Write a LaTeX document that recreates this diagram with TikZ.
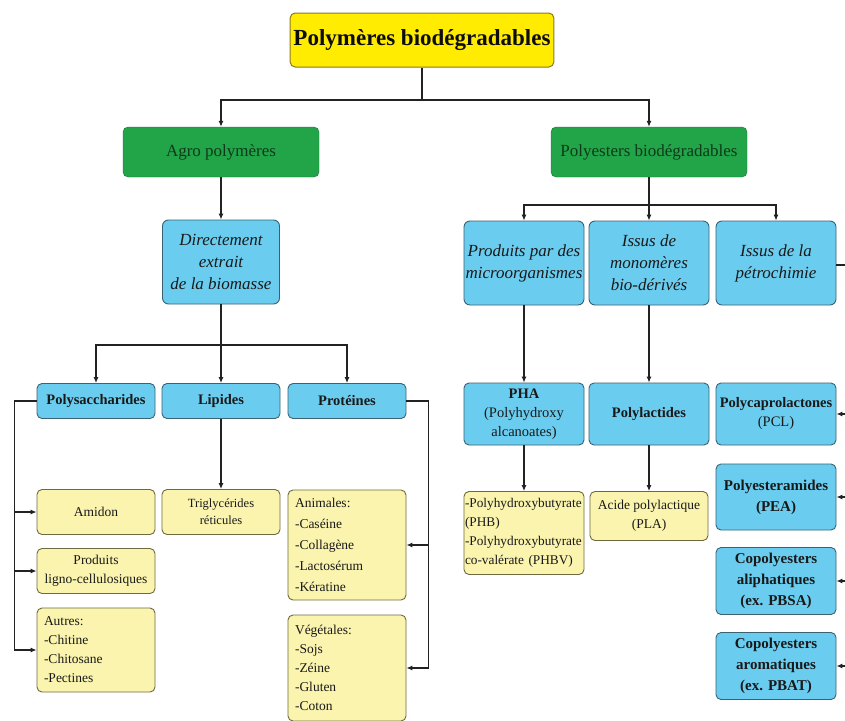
\documentclass[tikz,border=0pt]{standalone}
\usepackage{fontspec}
\setmainfont{Liberation Serif}
\newfontfamily\diagfont{Liberation Serif}
\usetikzlibrary{arrows.meta,positioning}
\definecolor{titleyellow}{HTML}{FFEC00}
\definecolor{titleedge}{HTML}{8A7A20}
\definecolor{groupgreen}{HTML}{22A548}
\definecolor{greenedge}{HTML}{17733A}
\definecolor{greentext}{HTML}{0E3A1A}
\definecolor{boxblue}{HTML}{6ACDF0}
\definecolor{blueedge}{HTML}{3A6272}
\definecolor{leafyellow}{HTML}{FAF4AE}
\definecolor{leafedge}{HTML}{6E6A40}
\definecolor{linegray}{HTML}{222222}
\tikzset{
  rootbox/.style={rectangle,rounded corners=5pt,draw=titleedge,line width=1pt,fill=titleyellow,minimum width=262pt,minimum height=54pt,font=\diagfont\fontsize{23}{26}\selectfont\bfseries,text=black!95},
  groupbox/.style={rectangle,rounded corners=5pt,draw=greenedge,fill=groupgreen,minimum width=196pt,minimum height=50pt,font=\diagfont\fontsize{17}{20}\selectfont,text=greentext},
  originbox/.style={rectangle,rounded corners=6pt,draw=blueedge,line width=0.9pt,fill=boxblue,minimum width=120pt,minimum height=84pt,align=center,inner sep=1pt,font=\diagfont\fontsize{17}{22}\selectfont\itshape,text=black!90},
  familybox/.style={rectangle,rounded corners=5pt,draw=blueedge,line width=0.9pt,fill=boxblue,minimum width=118pt,minimum height=35pt,align=center,inner sep=1pt,font=\diagfont\fontsize{14.5}{19}\selectfont\bfseries,text=black!90},
  leafbox/.style={rectangle,rounded corners=5pt,draw=leafedge,line width=0.9pt,fill=leafyellow,minimum width=118pt,align=center,inner sep=1pt,font=\diagfont\fontsize{13.5}{19}\selectfont,text=black!90},
  listbox/.style={leafbox,align=left,text width=104pt,inner xsep=7pt},
  arrow/.style={-{Latex[length=6pt,width=5pt]},line width=1.1pt,draw=linegray},
  link/.style={line width=1.1pt,draw=linegray}
}

\begin{document}
\begin{tikzpicture}[x=1pt,y=-1pt]
  \fill[white] (0,0) rectangle (845,720);
  \useasboundingbox (0,0) rectangle (845,720);

  % top levels
  \node[rootbox] (root) at (422,40) {Polymères biodégradables};
  \node[groupbox] (agro) at (221,152) {Agro polymères};
  \node[groupbox] (polyest) at (649,152) {Polyesters biodégradables};

  \node[originbox,minimum width=117pt] (biomasse) at (221,262) {Directement\\extrait\\de la biomasse};
  \node[originbox] (micro) at (524,263) {Produits par des\\microorganismes};
  \node[originbox] (monomer) at (649,263) {Issus de\\monomères\\bio-dérivés};
  \node[originbox] (petro) at (776,263) {Issus de la\\pétrochimie};

  % agro polymeres
  \node[familybox] (polysac) at (96,401) {Polysaccharides};
  \node[familybox] (lipid) at (221,401) {Lipides};
  \node[familybox] (protein) at (347,401) {Protéines};

  \node[leafbox,minimum height=45pt] (amidon) at (96,512) {Amidon};
  \node[leafbox,minimum height=45pt] (ligno) at (96,571) {Produits\\ligno-cellulosiques};
  \node[listbox,minimum height=84pt] (autres) at (96,650) {Autres:\\-Chitine\\-Chitosane\\-Pectines};
  \node[leafbox,minimum height=45pt,font=\diagfont\fontsize{12.5}{17}\selectfont] (trigly) at (221,512) {Triglycérides\\réticules};
  \node[listbox,minimum height=110pt,font=\diagfont\fontsize{13.5}{21}\selectfont] (animal) at (347,545) {Animales:\\-Caséine\\-Collagène\\-Lactosérum\\-Kératine};
  \node[listbox,minimum height=106pt] (vegetal) at (347,668) {Végétales:\\-Sojs\\-Zéine\\-Gluten\\-Coton};

  % polyesters
  \node[familybox,minimum width=120pt,minimum height=62pt] (pha) at (524,414) {PHA\\{\mdseries(Polyhydroxy}\\{\mdseries alcanoates)}};
  \node[familybox,minimum width=120pt,minimum height=62pt] (polylact) at (649,414) {Polylactides};
  \node[familybox,minimum width=120pt,minimum height=62pt] (pcl) at (776,414) {Polycaprolactones\\{\mdseries(PCL)}};
  \node[familybox,minimum width=120pt,minimum height=66pt,font=\diagfont\fontsize{15}{21}\selectfont\bfseries] (pea) at (776,497) {Polyesteramides\\(PEA)};
  \node[familybox,minimum width=120pt,minimum height=67pt,font=\diagfont\fontsize{15}{21}\selectfont\bfseries] (pbsa) at (776,581) {Copolyesters\\aliphatiques\\(ex. PBSA)};
  \node[familybox,minimum width=120pt,minimum height=67pt,font=\diagfont\fontsize{15}{21}\selectfont\bfseries] (pbat) at (776,666) {Copolyesters\\aromatiques\\(ex. PBAT)};

  \node[listbox,text width=118pt,inner xsep=1pt,minimum height=83pt,font=\diagfont\fontsize{13.3}{19}\selectfont] (phb) at (524,533) {-Polyhydroxybutyrate\\(PHB)\\-Polyhydroxybutyrate\\co-valérate (PHBV)};
  \node[leafbox,minimum height=49pt] (pla) at (649,516) {Acide polylactique\\(PLA)};

  % fork points
  \coordinate (fk1) at (422,100);
  \coordinate (fk2) at (649,205);
  \coordinate (fk3) at (221,345);
  \coordinate (rbus) at (858,265);

  \draw[link] (root) -- (fk1);
  \draw[arrow] (fk1) -| (agro);
  \draw[arrow] (fk1) -| (polyest);
  \draw[arrow] (agro) -- (biomasse);

  \draw[link] (polyest) -- (fk2);
  \foreach \t in {micro,monomer,petro}
    \draw[arrow] (fk2) -| (\t);

  \draw[link] (biomasse) -- (fk3);
  \foreach \t in {polysac,lipid,protein}
    \draw[arrow] (fk3) -| (\t);

  \foreach \t in {amidon,ligno,autres}
    \draw[arrow] (polysac.west) -- ++(-22,0) |- (\t);
  \draw[arrow] (lipid) -- (trigly);
  \foreach \t in {animal,vegetal}
    \draw[arrow] (protein.east) -- ++(22,0) |- (\t);

  \draw[arrow] (micro) -- (pha);
  \draw[arrow] (pha) -- (phb);
  \draw[arrow] (monomer) -- (polylact);
  \draw[arrow] (polylact) -- (pla);

  \draw[link] (petro.east |- rbus) -- (rbus);
  \foreach \t in {pcl,pea,pbsa,pbat}
    \draw[arrow] (rbus) |- (\t);
\end{tikzpicture}
\end{document}
